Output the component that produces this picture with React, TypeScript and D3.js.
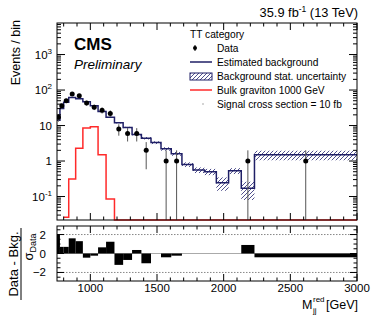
import React from "react";
import * as d3 from "d3";

// bin edges of the reduced dijet mass (GeV)
const binEdges = [750, 772, 800, 838, 890, 944, 1000, 1058, 1118, 1181, 1246, 1313, 1383, 1455, 1530, 1607, 1687, 1770, 1856, 1945, 2037, 2132, 2231, 3000];
const dataCounts = [17, 36, 50, 77, 69, 43, 33, 27, 22, 8, 6, 6, 2, 0, 1, 1, 0, 0, 0, 0, 0, 1, 1];
const bkgYield = [14, 30, 45, 62, 57, 47, 36, 25, 17, 12, 8.8, 5.6, 4.4, 3.3, 2.2, 1.6, 0.8, 0.56, 0.5, 0.245, 0.53, 0.17, 1.5];
const bkgStatErr = [0.4, 0.8, 1.1, 1.4, 1.3, 1.2, 1.0, 0.8, 0.6, 0.5, 0.4, 0.35, 0.35, 0.3, 0.25, 0.2, 0.12, 0.1, 0.1, 0.1, 0.1, 0.09, 0.45];
const signalYield = [0, 0, 0.026, 0.31, 2.3, 8.5, 9.3, 1.5, 0.085, 0, 0, 0, 0, 0, 0, 0, 0, 0, 0, 0, 0, 0, 0];
const pullValues = [2.0, 0.7, 0.7, 1.6, 1.3, -0.44, -0.23, 0.65, 1.24, -1.2, -0.68, 0.37, -1.03, 0, -0.4, -0.23, 0, 0, 0, 0, 0, 0.9, -0.4];

const xTickLabels = [1000, 1500, 2000, 2500, 3000];
const yTickPowers = [-1, 0, 1, 2, 3];
const ratioTickLabels = [-2, 0, 2];

const legendRows = ["Data", "Estimated background", "Background stat. uncertainty", "Bulk graviton 1000 GeV", "Signal cross section = 10 fb"];

const W = 377;
const H = 319;
const left = 57;
const right = 357;
const mainTop = 23;
const mainBottom = 220;
const ratioTop = 226;
const ratioBottom = 281;

const font = "'Liberation Sans', Arial, Helvetica, sans-serif";
const navy = "#1f1f66";
const red = "#ff2a2a";

export default function App() {
  const x = d3.scaleLinear().domain([750, 3000]).range([left, right]);
  const yMin = 0.0218;
  const y = d3.scaleLog().domain([yMin, 7740]).range([mainBottom, mainTop]);
  const yR = d3.scaleLinear().domain([-2.9, 2.9]).range([ratioBottom, ratioTop]);

  const yc = (v: number) => y(Math.max(v, yMin));
  const line = d3.line<[number, number]>();

  const stepPoints = (vals: number[], start: number) => {
    const pts: [number, number][] = [];
    for (let i = start; i < vals.length; i++) {
      pts.push([x(binEdges[i]), yc(vals[i])]);
      pts.push([x(binEdges[i + 1]), yc(vals[i])]);
    }
    return pts;
  };

  const bins = d3.range(binEdges.length - 1);

  const xMinor = d3.range(800, 3001, 100);
  const yTicks = y.ticks().filter(t => t >= yMin && t <= 7740);
  const rTicks = d3.range(-2.5, 2.51, 0.5);

  return (
    <svg width={W} height={H} style={{ position: "absolute", left: 0, top: 0, background: "#fff" }} fontFamily={font}>
      <defs>
        <pattern id="hatch" patternUnits="userSpaceOnUse" width="4" height="4">
          <path d="M-1,1 l2,-2 M0,4 l4,-4 M3,5 l2,-2" stroke="#3b3b80" strokeWidth="0.9" />
        </pattern>
        <clipPath id="mainClip">
          <rect x={left} y={mainTop} width={right - left} height={mainBottom - mainTop + 1} />
        </clipPath>
      </defs>

      {/* main panel */}
      <g clipPath="url(#mainClip)">
        {bins.map(i => (
          <rect key={"b" + i} x={x(binEdges[i])} width={x(binEdges[i + 1]) - x(binEdges[i])}
            y={yc(bkgYield[i] + bkgStatErr[i])}
            height={yc(bkgYield[i] - bkgStatErr[i]) - yc(bkgYield[i] + bkgStatErr[i])}
            fill="url(#hatch)" />
        ))}
        <path d={line(stepPoints(bkgYield, 0)) || ""} fill="none" stroke={navy} strokeWidth={1.5} />
        <path d={line(stepPoints(signalYield, 2)) || ""} fill="none" stroke={red} strokeWidth={1.5} />
        {bins.filter(i => dataCounts[i] > 0).map(i => {
          const cx = x((binEdges[i] + binEdges[i + 1]) / 2);
          const n = dataCounts[i];
          const e = Math.sqrt(n);
          return (
            <g key={"d" + i}>
              <line x1={cx} x2={cx} y1={yc(n + e)} y2={yc(n - e)} stroke="#555" strokeWidth={1} />
              <circle cx={cx} cy={y(n)} r={2.5} fill="#000" />
            </g>
          );
        })}
      </g>

      {/* main frame and ticks */}
      {yTicks.map((t, i) => {
        const major = Math.abs(Math.log10(t) - Math.round(Math.log10(t))) < 1e-6;
        const len = major ? 8 : 4;
        return (
          <g key={"yt" + i} stroke="#000" strokeWidth={1}>
            <line x1={left} x2={left + len} y1={y(t)} y2={y(t)} />
            <line x1={right} x2={right - len} y1={y(t)} y2={y(t)} />
          </g>
        );
      })}
      {xMinor.map(t => {
        const len = t % 500 === 0 ? 7 : 3.5;
        return (
          <g key={"xt" + t} stroke="#000" strokeWidth={1}>
            <line x1={x(t)} x2={x(t)} y1={mainTop} y2={mainTop + len} />
            <line x1={x(t)} x2={x(t)} y1={mainBottom} y2={mainBottom - len} />
            <line x1={x(t)} x2={x(t)} y1={ratioTop} y2={ratioTop + len} />
            <line x1={x(t)} x2={x(t)} y1={ratioBottom} y2={ratioBottom - len} />
          </g>
        );
      })}
      <rect x={left} y={mainTop} width={right - left} height={mainBottom - mainTop} fill="none" stroke="#000" strokeWidth={1} />

      {yTickPowers.map(p => (
        <text key={"yl" + p} x={52} y={y(Math.pow(10, p)) + 4} textAnchor="end" fontSize={11.5}>
          {p === 0 ? "1" : p === 1 ? "10" : (
            <>
              10<tspan fontSize={8} dy={-5}>{p}</tspan>
            </>
          )}
        </text>
      ))}

      <text transform={`translate(19.5,20) rotate(-90)`} textAnchor="end" fontSize={12.5}>Events / bin</text>

      <text x={74} y={50} fontSize={17} fontWeight="bold">CMS</text>
      <text x={74} y={69} fontSize={13.5} fontStyle="italic">Preliminary</text>

      <text x={358} y={17} textAnchor="end" fontSize={12.8}>
        35.9 fb<tspan fontSize={8.5} dy={-5}>-1</tspan><tspan dy={5}> (13 TeV)</tspan>
      </text>

      {/* legend */}
      <g fontSize={10.2}>
        <text x={190} y={38}>TT category</text>
        {legendRows.map((r, i) => (
          <text key={r} x={217} y={52 + i * 14}>{r}</text>
        ))}
        <line x1={195} x2={195} y1={45} y2={51} stroke="#000" strokeWidth={1} />
        <circle cx={195} cy={48} r={2} fill="#000" />
        <line x1={190} x2={212} y1={62} y2={62} stroke={navy} strokeWidth={1.5} />
        <rect x={190} y={73} width={22} height={7} fill="url(#hatch)" stroke={navy} strokeWidth={1} />
        <line x1={190} x2={212} y1={90} y2={90} stroke={red} strokeWidth={1.5} />
        <circle cx={203} cy={104} r={0.7} fill="#888" />
      </g>

      {/* ratio panel */}
      {[-2, 2].map(v => (
        <line key={"g" + v} x1={left} x2={right} y1={yR(v)} y2={yR(v)} stroke="#888" strokeWidth={1} strokeDasharray="1.5,1.5" />
      ))}
      <line x1={left} x2={right} y1={yR(0)} y2={yR(0)} stroke="#aaa" strokeWidth={1} />
      {bins.map(i => (
        <rect key={"p" + i} x={x(binEdges[i])} width={x(binEdges[i + 1]) - x(binEdges[i])}
          y={yR(Math.max(0, pullValues[i]))}
          height={Math.abs(yR(0) - yR(pullValues[i]))} fill="#000" />
      ))}
      {rTicks.map(t => {
        const len = Math.abs(t % 2) < 1e-6 ? 7 : 3.5;
        return (
          <g key={"rt" + t} stroke="#000" strokeWidth={1}>
            <line x1={left} x2={left + len} y1={yR(t)} y2={yR(t)} />
            <line x1={right} x2={right - len} y1={yR(t)} y2={yR(t)} />
          </g>
        );
      })}
      <rect x={left} y={ratioTop} width={right - left} height={ratioBottom - ratioTop} fill="none" stroke="#000" strokeWidth={1} />
      {ratioTickLabels.map(v => (
        <text key={"rl" + v} x={46} y={yR(v) + 4} textAnchor="end" fontSize={11.5}>{v === -2 ? "\u22122" : v}</text>
      ))}
      {xTickLabels.map(v => (
        <text key={"xl" + v} x={x(v)} y={292} textAnchor="middle" fontSize={11.5}>{v}</text>
      ))}

      {/* ratio axis title */}
      <text transform={`translate(18,264) rotate(-90)`} textAnchor="middle" fontSize={13}>Data - Bkg.</text>
      <line x1={21} x2={21} y1={228} y2={300} stroke="#000" strokeWidth={1} />
      <text transform={`translate(33,247) rotate(-90)`} textAnchor="middle" fontSize={13}>
        σ<tspan fontSize={9} dy={3}>Data</tspan>
      </text>

      {/* x axis title */}
      <text x={302} y={309} fontSize={12.5}>M</text>
      <text x={313} y={302} fontSize={8}>red</text>
      <text x={313} y={313} fontSize={8}>jj</text>
      <text x={358} y={309} textAnchor="end" fontSize={12.5}>[GeV]</text>
    </svg>
  );
}
